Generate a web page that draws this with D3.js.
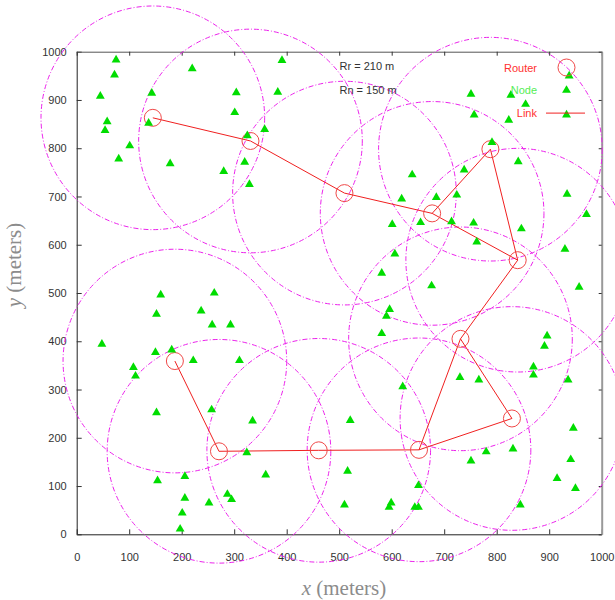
<!DOCTYPE html>
<html>
<head>
<meta charset="utf-8">
<script src="https://cdn.jsdelivr.net/npm/d3@7"></script>
<style>
  body { margin: 0; background: #fff; }
  svg { display: block; }
  .tick text { font-family: "Liberation Sans", Arial, sans-serif; font-size: 11px; fill: #333; }
  .tick line { stroke: #333; }
  .note { font-family: "Liberation Sans", Arial, sans-serif; font-size: 11px; fill: #333; }
  .leg { font-family: "Liberation Sans", Arial, sans-serif; font-size: 11px; }
  .title { font-family: "Liberation Serif", "Times New Roman", serif; font-size: 21px; fill: #8c8c8c; }
</style>
</head>
<body>
<svg id="chart"></svg>
<script>
// routers (m)
const routers = [
  [145, 863], [331, 815], [510, 707], [677, 665], [788, 798], [840, 568],
  [731, 405], [829, 240], [652, 175], [461, 174], [271, 172], [187, 359]
]
// router links, by index into routers
const links = [
  [0, 1], [1, 2], [2, 3], [3, 4], [3, 5], [4, 5], [5, 6],
  [6, 8], [6, 7], [7, 8], [8, 9], [9, 10], [10, 11]
]
// sensor nodes (m)
const nodes = [
  [75, 983], [220, 965], [72, 952], [45, 908], [143, 914], [304, 915], [301, 874],
  [58, 855], [137, 852], [54, 837], [325, 826], [101, 805], [80, 778], [178, 768],
  [320, 771], [280, 752], [329, 725], [391, 982], [383, 916], [358, 839],
  [639, 745], [619, 695], [601, 642], [655, 646], [606, 581], [581, 541],
  [938, 950], [933, 869], [751, 912], [827, 910], [855, 891], [757, 869], [823, 858],
  [791, 812], [841, 772], [738, 755], [934, 705], [685, 698], [724, 703], [971, 663],
  [714, 648], [756, 645], [847, 633], [762, 606], [930, 591], [676, 515], [957, 512],
  [160, 496], [262, 500], [152, 456], [237, 463], [258, 434], [293, 434], [48, 394],
  [150, 377], [181, 382], [222, 360], [310, 360], [108, 346], [112, 328], [152, 252],
  [257, 258], [335, 235], [324, 169], [154, 111], [206, 120], [206, 75], [252, 65],
  [287, 83], [295, 72], [201, 44], [197, 11],
  [596, 466], [590, 452], [581, 416], [621, 306], [521, 236], [360, 123], [516, 131],
  [651, 101], [510, 61], [599, 65], [595, 56], [644, 56], [651, 56],
  [896, 411], [891, 390], [870, 347], [870, 330], [936, 320], [730, 325], [766, 320],
  [946, 220], [780, 171], [831, 177], [751, 152], [941, 155], [915, 116], [950, 95],
  [845, 61]
]
const xTicks = [0, 100, 200, 300, 400, 500, 600, 700, 800, 900, 1000]
const yTicks = [0, 100, 200, 300, 400, 500, 600, 700, 800, 900, 1000]
const Rr = 210, Rn = 150
const ringR = 213 // router range ring as drawn, m
const legendItems = ['Router', 'Node', 'Link']

const W = 615, H = 600
const pLeft = 76.7, pRight = 601.7, pTop = 51.7, pBottom = 534.3

const svg = d3.select('#chart').attr('width', W).attr('height', H)

const x = d3.scaleLinear().domain([0, 1000]).range([pLeft, pRight])
const y = d3.scaleLinear().domain([0, 1000]).range([pBottom, pTop])

// axes, ticks pointing inward
const gx = svg.append('g')
    .attr('transform', `translate(0,${pBottom})`)
    .call(d3.axisBottom(x).tickValues(xTicks).tickFormat(d3.format('d'))
      .tickSize(-5).tickSizeOuter(0).tickPadding(19))
gx.select('.domain').attr('stroke', '#222')

const gy = svg.append('g')
    .attr('transform', `translate(${pLeft},0)`)
    .call(d3.axisLeft(y).tickValues(yTicks).tickFormat(d3.format('d'))
      .tickSize(-5).tickSizeOuter(0).tickPadding(10))
gy.select('.domain').attr('stroke', '#222')

const gt = svg.append('g')
    .attr('transform', `translate(0,${pTop})`)
    .call(d3.axisTop(x).tickValues(xTicks).tickSize(-4).tickSizeOuter(0).tickFormat(''))
gt.select('.domain').attr('stroke', '#555')

const gr = svg.append('g')
    .attr('transform', `translate(${pRight},0)`)
    .call(d3.axisRight(y).tickValues(yTicks).tickSize(-3).tickSizeOuter(0).tickFormat(''))
gr.select('.domain').attr('stroke', '#999').attr('stroke-width', 2)

// range rings
const ringPx = x(ringR) - x(0)
svg.append('g')
  .selectAll('circle')
  .data(routers)
  .join('circle')
    .attr('cx', d => x(d[0]))
    .attr('cy', d => y(d[1]))
    .attr('r', ringPx)
    .attr('fill', 'none')
    .attr('stroke', '#ec22ec')
    .attr('stroke-width', 1)
    .attr('stroke-dasharray', '5,2,1,2')

// links
svg.append('g')
  .selectAll('line')
  .data(links)
  .join('line')
    .attr('x1', d => x(routers[d[0]][0]))
    .attr('y1', d => y(routers[d[0]][1]))
    .attr('x2', d => x(routers[d[1]][0]))
    .attr('y2', d => y(routers[d[1]][1]))
    .attr('stroke', '#f02020')
    .attr('stroke-width', 1)

// routers
svg.append('g')
  .selectAll('circle')
  .data(routers)
  .join('circle')
    .attr('cx', d => x(d[0]))
    .attr('cy', d => y(d[1]))
    .attr('r', 8.5)
    .attr('fill', 'none')
    .attr('stroke', '#f04848')
    .attr('stroke-width', 1)

// nodes
const tri = d3.symbol(d3.symbolTriangle, 34)
svg.append('g')
  .selectAll('path')
  .data(nodes)
  .join('path')
    .attr('d', tri)
    .attr('transform', d => `translate(${x(d[0])},${y(d[1])})`)
    .attr('fill', '#00dd00')

// notes
svg.append('text').attr('class', 'note').attr('x', 339.5).attr('y', 69.5).text(`Rr = ${Rr} m`)
svg.append('text').attr('class', 'note').attr('x', 339.5).attr('y', 94).text(`Rn = ${Rn} m`)

// legend
const legColors = ['#ff3030', '#55ee55', '#ff3030']
const lg = svg.append('g')
legendItems.forEach((name, i) => {
  const ly = 67.5 + i * 22.8
  lg.append('text')
    .attr('class', 'leg')
    .attr('x', 537)
    .attr('y', ly + 4)
    .attr('text-anchor', 'end')
    .attr('fill', legColors[i])
    .text(name)
  if (i === 0) {
    lg.append('circle').attr('cx', 566.5).attr('cy', ly).attr('r', 8.5)
      .attr('fill', 'none').attr('stroke', '#f04848')
  } else if (i === 1) {
    lg.append('path').attr('d', tri).attr('transform', `translate(566.5,${ly})`).attr('fill', '#00dd00')
  } else {
    lg.append('line').attr('x1', 546).attr('x2', 585).attr('y1', ly).attr('y2', ly)
      .attr('stroke', '#f02020')
  }
})

// axis titles
const xt = svg.append('text').attr('class', 'title')
    .attr('x', 344).attr('y', 595).attr('text-anchor', 'middle')
xt.append('tspan').attr('font-style', 'italic').text('x')
xt.append('tspan').text(' (meters)')

const yt = svg.append('text').attr('class', 'title')
    .attr('transform', 'translate(21,265) rotate(-90)').attr('text-anchor', 'middle')
yt.append('tspan').attr('font-style', 'italic').text('y')
yt.append('tspan').text(' (meters)')
</script>
</body>
</html>
